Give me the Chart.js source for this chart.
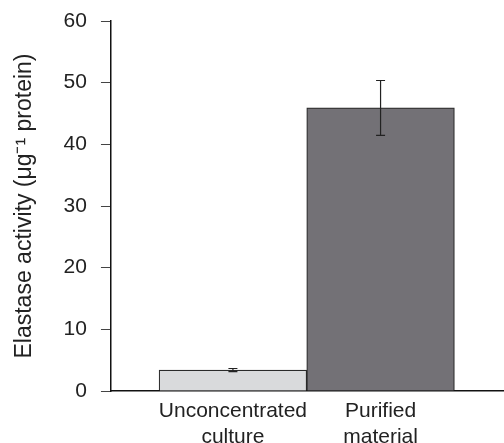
<!DOCTYPE html>
<html>
<head>
<meta charset="utf-8">
<script src="https://cdn.jsdelivr.net/npm/chart.js@4/dist/chart.umd.min.js"></script>
<style>
  html, body { margin: 0; padding: 0; background: #ffffff; }
  #wrap { width: 504px; height: 443px; position: relative; }
</style>
</head>
<body>
<div id="wrap"><canvas id="c" width="504" height="443"></canvas></div>
<script>
// ---- data ----
const categories = [['Unconcentrated', 'culture'], ['Purified', 'material']];
const activity = [3.4, 45.9];
const errors = [0.25, 4.45];
const yTicks = [0, 10, 20, 30, 40, 50, 60];
const barColors = ['#d9dadc', '#737176'];

const points = activity.map((v, i) => ({ x: i + 1, y: v }));

const errorBarPlugin = {
  id: 'errorBars',
  afterDatasetsDraw(chart) {
    const meta = chart.getDatasetMeta(0);
    const ys = chart.scales.y;
    const ctx = chart.ctx;
    ctx.save();
    ctx.strokeStyle = '#222';
    ctx.lineWidth = 1.2;
    meta.data.forEach((bar, i) => {
      const x = bar.x;
      const top = ys.getPixelForValue(activity[i] + errors[i]);
      const bot = ys.getPixelForValue(activity[i] - errors[i]);
      const cap = 4.5;
      ctx.beginPath();
      ctx.moveTo(x, top); ctx.lineTo(x, bot);
      ctx.moveTo(x - cap, top); ctx.lineTo(x + cap, top);
      ctx.moveTo(x - cap, bot); ctx.lineTo(x + cap, bot);
      ctx.stroke();
    });
    ctx.restore();
  }
};

const family = "'Liberation Sans', Arial, Helvetica, sans-serif";
const font = { family: family, size: 21, lineHeight: 1.2 };

new Chart(document.getElementById('c'), {
  type: 'bar',
  data: {
    datasets: [{
      data: points,
      backgroundColor: barColors,
      borderColor: '#2a2a2a',
      borderWidth: 1.2,
      categoryPercentage: 1.0,
      barPercentage: 1.0
    }]
  },
  options: {
    responsive: false,
    animation: false,
    devicePixelRatio: 1,
    layout: { padding: { left: 4, right: 0, top: 21, bottom: 0 } },
    plugins: { legend: { display: false }, tooltip: { enabled: false } },
    scales: {
      x: {
        type: 'linear',
        min: 0.174,
        max: 2.836,
        offset: false,
        grid: { display: true, drawOnChartArea: false, drawTicks: false, tickLength: 0 },
        border: { display: true, color: '#111', width: 1.5 },
        afterFit: (s) => { s.height = 52; },
        ticks: {
          stepSize: 1,
          includeBounds: false,
          padding: 8,
          color: '#222',
          font: font,
          maxRotation: 0,
          autoSkip: false,
          callback: (v) => (Number.isInteger(v) && categories[v - 1]) ? categories[v - 1] : ''
        }
      },
      y: {
        min: yTicks[0],
        max: yTicks[yTicks.length - 1],
        grid: { drawOnChartArea: false, drawTicks: true, tickLength: 10, color: '#444', lineWidth: 1 },
        border: { display: true, color: '#111', width: 1.5 },
        afterBuildTicks: (scale) => { scale.ticks = yTicks.map(v => ({ value: v })); },
        afterFit: (s) => { s.paddingTop = 0; },
        ticks: { color: '#222', font: { family: family, size: 21 }, padding: 14 },
        title: {
          display: true,
          text: 'Elastase activity (μg⁻¹ protein)',
          color: '#222',
          font: { family: family, size: 23 },
          padding: { top: 7, bottom: 11 }
        }
      }
    }
  },
  plugins: [errorBarPlugin]
});
</script>
</body>
</html>
